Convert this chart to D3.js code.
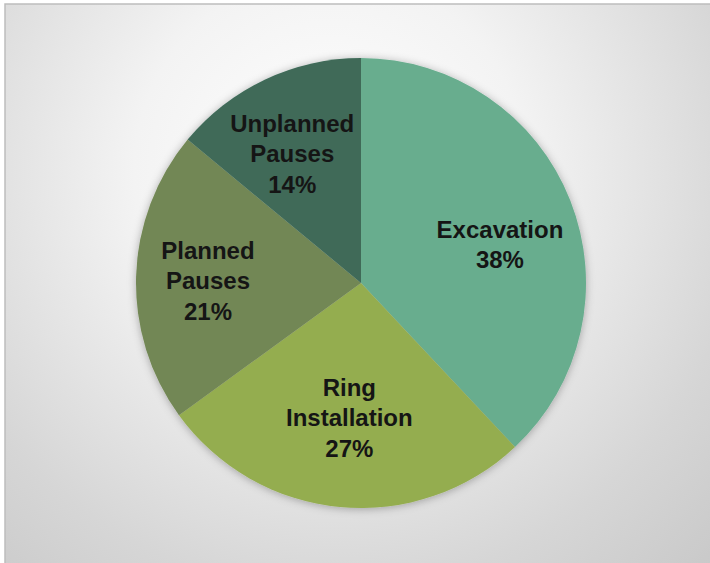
<!DOCTYPE html>
<html>
<head>
<meta charset="utf-8">
<script src="https://cdn.jsdelivr.net/npm/d3@7"></script>
<style>
  html, body { margin: 0; padding: 0; background: #ffffff; overflow: hidden; }
  svg { display: block; }
</style>
</head>
<body>
<svg id="chart" width="710" height="563"></svg>
<script>
// Share of tunnelling time by activity
const categories = ["Excavation", "Ring Installation", "Planned Pauses", "Unplanned Pauses"];
const labelLines = [["Excavation"], ["Ring", "Installation"], ["Planned", "Pauses"], ["Unplanned", "Pauses"]];
const shares = [38, 27, 21, 14];
const colors = ["#68ad8e", "#94ad50", "#728754", "#3f6b59"];

// Best-fit nudges for the data labels, relative to each slice's label centroid
const labelNudge = [[4, 15], [2, -10], [-8, 2], [-7, 2]];

const width = 710, height = 563;
const svg = d3.select("#chart");
const defs = svg.append("defs");

// Soft radial background
const bg = defs.append("radialGradient")
  .attr("id", "bgGrad")
  .attr("gradientUnits", "userSpaceOnUse")
  .attr("cx", 330).attr("cy", 170).attr("r", 560);
bg.append("stop").attr("offset", "0").attr("stop-color", "#ffffff");
bg.append("stop").attr("offset", "0.35").attr("stop-color", "#f3f3f3");
bg.append("stop").attr("offset", "0.75").attr("stop-color", "#d6d6d6");
bg.append("stop").attr("offset", "1").attr("stop-color", "#c8c8c8");

// Outer shadow around the pie
const shadow = defs.append("filter")
  .attr("id", "pieShadow")
  .attr("x", "-20%").attr("y", "-20%").attr("width", "140%").attr("height", "140%");
shadow.append("feDropShadow")
  .attr("dx", 0).attr("dy", 1)
  .attr("stdDeviation", 4)
  .attr("flood-color", "#000000")
  .attr("flood-opacity", 0.3);

svg.append("rect")
  .attr("x", 5).attr("y", 4)
  .attr("width", width).attr("height", height)
  .attr("fill", "url(#bgGrad)");

// Frame edges along the top and left
svg.append("path")
  .attr("d", `M5,${height} L5,4 L${width},4`)
  .attr("fill", "none")
  .attr("stroke", "#bdbdbd")
  .attr("stroke-width", 1.5);

const cx = 361, cy = 283, radius = 225;

const pie = d3.pie().sort(null).value(d => d)(shares);
const arc = d3.arc().innerRadius(0).outerRadius(radius);
const labelArc = d3.arc().innerRadius(radius * 0.645).outerRadius(radius * 0.645);

const g = svg.append("g").attr("transform", `translate(${cx},${cy})`);

g.append("g")
  .attr("filter", "url(#pieShadow)")
  .selectAll("path")
  .data(pie)
  .join("path")
  .attr("d", arc)
  .attr("fill", (d, i) => colors[i]);

const fontSize = 24;
const lineH = 30.5;

const labels = g.append("g")
  .selectAll("text")
  .data(pie)
  .join("text")
  .attr("transform", (d, i) => {
    const [x, y] = labelArc.centroid(d);
    return `translate(${x + labelNudge[i][0]},${y + labelNudge[i][1]})`;
  })
  .attr("text-anchor", "middle")
  .attr("font-family", "'Century Gothic', 'Liberation Sans', Arial, sans-serif")
  .attr("font-weight", "bold")
  .attr("font-size", fontSize)
  .attr("fill", "#151515");

labels.each(function(d, i) {
  const lines = labelLines[i].concat([shares[i] + "%"]);
  const top = -((lines.length - 1) * lineH) / 2 + fontSize * 0.36;
  const t = d3.select(this);
  lines.forEach((ln, k) => {
    t.append("tspan")
      .attr("x", 0)
      .attr("y", top + k * lineH)
      .text(ln);
  });
});
</script>
</body>
</html>
